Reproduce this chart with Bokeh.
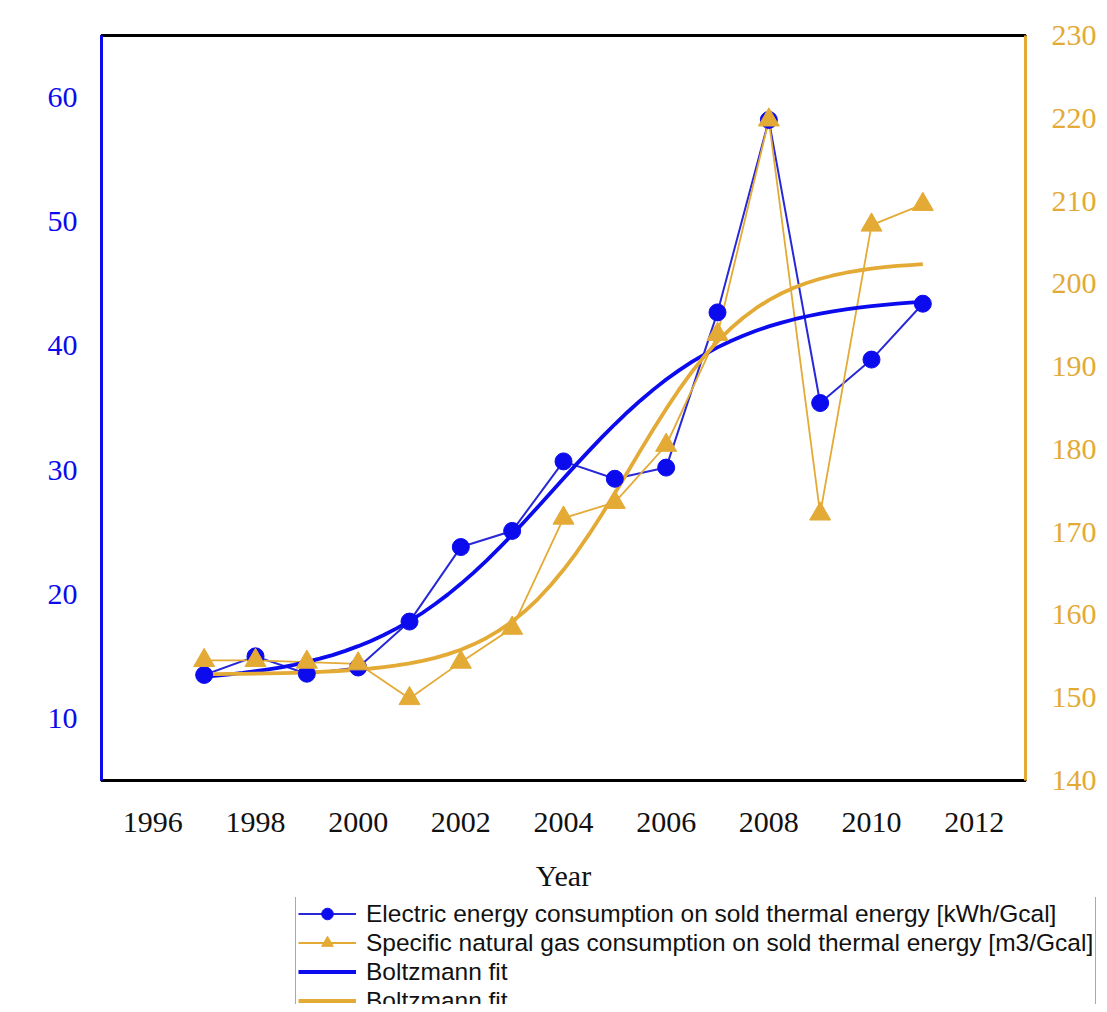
from bokeh.plotting import figure
from bokeh.models import (Range1d, LinearAxis, Legend, LegendItem,
                          SingleIntervalTicker, ColumnDataSource)
from bokeh.embed import file_html
from bokeh.resources import INLINE

# ---- data ----
years = [1997, 1998, 1999, 2000, 2001, 2002, 2003, 2004, 2005, 2006, 2007, 2008, 2009, 2010, 2011]
electric = [13.5, 15.0, 13.6, 14.1, 17.8, 23.8, 25.1, 30.7, 29.3, 30.2, 42.7, 58.2, 35.4, 38.9, 43.4]
gas = [154.5, 154.5, 154.3, 154.1, 149.9, 154.3, 158.4, 171.7, 173.6, 180.5, 193.9, 219.8, 172.2, 207.1, 209.6]

fit_years = [1997.0, 1997.25, 1997.5, 1997.75, 1998.0, 1998.25, 1998.5, 1998.75,
             1999.0, 1999.25, 1999.5, 1999.75, 2000.0, 2000.25, 2000.5, 2000.75,
             2001.0, 2001.25, 2001.5, 2001.75, 2002.0, 2002.25, 2002.5, 2002.75,
             2003.0, 2003.25, 2003.5, 2003.75, 2004.0, 2004.25, 2004.5, 2004.75,
             2005.0, 2005.25, 2005.5, 2005.75, 2006.0, 2006.25, 2006.5, 2006.75,
             2007.0, 2007.25, 2007.5, 2007.75, 2008.0, 2008.25, 2008.5, 2008.75,
             2009.0, 2009.25, 2009.5, 2009.75, 2010.0, 2010.25, 2010.5, 2010.75, 2011.0]
electric_fit = [13.36, 13.45, 13.55, 13.66, 13.80, 13.95, 14.12, 14.32,
                14.55, 14.81, 15.10, 15.44, 15.82, 16.24, 16.72, 17.25,
                17.84, 18.49, 19.21, 19.99, 20.84, 21.74, 22.71, 23.73,
                24.79, 25.90, 27.03, 28.17, 29.32, 30.46, 31.57, 32.65,
                33.69, 34.68, 35.61, 36.48, 37.29, 38.03, 38.71, 39.32,
                39.88, 40.37, 40.82, 41.22, 41.57, 41.88, 42.15, 42.39,
                42.60, 42.79, 42.95, 43.09, 43.21, 43.31, 43.41, 43.49, 43.55]
gas_fit = [152.85, 152.86, 152.88, 152.89, 152.91, 152.94, 152.97, 153.01,
           153.06, 153.12, 153.20, 153.29, 153.40, 153.53, 153.70, 153.90,
           154.15, 154.45, 154.82, 155.27, 155.80, 156.45, 157.22, 158.13,
           159.21, 160.47, 161.92, 163.58, 165.45, 167.51, 169.76, 172.17,
           174.69, 177.28, 179.88, 182.43, 184.89, 187.21, 189.36, 191.30,
           193.04, 194.57, 195.91, 197.06, 198.04, 198.86, 199.55, 200.13,
           200.61, 201.01, 201.34, 201.61, 201.83, 202.01, 202.16, 202.27, 202.37]

legend_labels = ["Electric energy consumption on sold thermal energy [kWh/Gcal]",
                 "Specific natural gas consumption on sold thermal energy [m3/Gcal]",
                 "Boltzmann fit", "Boltzmann fit"]

BLUE = "#0B0BEE"
BLUE_THIN = "#2828D8"
GOLD = "#E3AA36"
SERIF = "Liberation Serif"
SANS = "Liberation Sans"

p = figure(width=1099, height=897, output_backend="svg", toolbar_location=None,
           x_range=Range1d(1995, 2013), y_range=Range1d(5, 65),
           min_border_left=101, min_border_right=72, min_border_top=35, min_border_bottom=117)
p.extra_y_ranges = {"gas": Range1d(140, 230)}

p.grid.visible = False
p.outline_line_color = "black"
p.outline_line_width = 3
p.background_fill_color = "white"
p.border_fill_color = "white"

# x axis
xa = p.xaxis[0]
xa.ticker = SingleIntervalTicker(interval=2)
xa.axis_line_color = "black"
xa.axis_line_width = 3
xa.major_tick_line_color = None
xa.minor_tick_line_color = None
xa.major_label_text_font = SERIF
xa.major_label_text_font_size = "30px"
xa.major_label_text_color = "#111111"
xa.major_label_standoff = 26
xa.axis_label = "Year"
xa.axis_label_text_font = SERIF
xa.axis_label_text_font_size = "30px"
xa.axis_label_text_font_style = "normal"
xa.axis_label_text_color = "#111111"
xa.axis_label_standoff = 24

# left axis
ya = p.yaxis[0]
ya.ticker = SingleIntervalTicker(interval=10)
ya.axis_line_color = BLUE
ya.axis_line_width = 3
ya.major_tick_line_color = None
ya.minor_tick_line_color = None
ya.major_label_text_font = SERIF
ya.major_label_text_font_size = "30px"
ya.major_label_text_color = BLUE
ya.major_label_standoff = 18

# right axis
ra = LinearAxis(y_range_name="gas", ticker=SingleIntervalTicker(interval=10))
ra.axis_line_color = GOLD
ra.axis_line_width = 3
ra.major_tick_line_color = None
ra.minor_tick_line_color = None
ra.major_label_text_font = SERIF
ra.major_label_text_font_size = "30px"
ra.major_label_text_color = GOLD
ra.major_label_standoff = 20
p.add_layout(ra, "right")

# data
src_e = ColumnDataSource(dict(x=years, y=electric))
src_g = ColumnDataSource(dict(x=years, y=gas))
src_fe = ColumnDataSource(dict(x=fit_years, y=electric_fit))
src_fg = ColumnDataSource(dict(x=fit_years, y=gas_fit))


def draw_series(fig, gas_range=None):
    kw = {} if gas_range is None else {"y_range_name": gas_range}
    le = fig.line("x", "y", source=src_e, line_color=BLUE_THIN, line_width=2)
    lg = fig.line("x", "y", source=src_g, line_color=GOLD, line_width=1.8, **kw)
    fe = fig.line("x", "y", source=src_fe, line_color=BLUE, line_width=3.8, line_join="round")
    fg = fig.line("x", "y", source=src_fg, line_color=GOLD, line_width=3.8, line_join="round", **kw)
    me = fig.scatter("x", "y", source=src_e, marker="circle", size=17, fill_color=BLUE, line_color=BLUE)
    mg = fig.scatter("x", "y", source=src_g, marker="triangle", size=21, fill_color=GOLD,
                     line_color=GOLD, **kw)
    return le, lg, fe, fg, me, mg


draw_series(p, gas_range="gas")

# ---- legend strip below the chart (its ranges keep the series out of view) ----
q = figure(width=1099, height=107, output_backend="svg", toolbar_location=None,
           x_range=Range1d(0, 1), y_range=Range1d(0, 1),
           x_axis_location=None, y_axis_location=None,
           min_border_left=0, min_border_right=0, min_border_top=0, min_border_bottom=0)
q.grid.visible = False
q.outline_line_color = None
q.background_fill_color = "white"
q.border_fill_color = "white"

le, lg, fe, fg, me, mg = draw_series(q)

legend = Legend(items=[
    LegendItem(label=legend_labels[0], renderers=[le, me]),
    LegendItem(label=legend_labels[1], renderers=[lg, mg]),
    LegendItem(label=legend_labels[2], renderers=[fe]),
    LegendItem(label=legend_labels[3], renderers=[fg]),
], location=(295, -14))
legend.label_text_font = SANS
legend.label_text_font_size = "24.5px"
legend.label_text_color = "#111111"
legend.glyph_width = 58
legend.glyph_height = 29
legend.label_height = 29
legend.spacing = 0
legend.padding = 2
legend.margin = 0
legend.label_standoff = 10
legend.border_line_color = "#555555"
legend.border_line_width = 1
legend.background_fill_color = "white"
legend.background_fill_alpha = 1
q.add_layout(legend, "center")

open("out.html", "w").write(file_html([p, q], INLINE))
